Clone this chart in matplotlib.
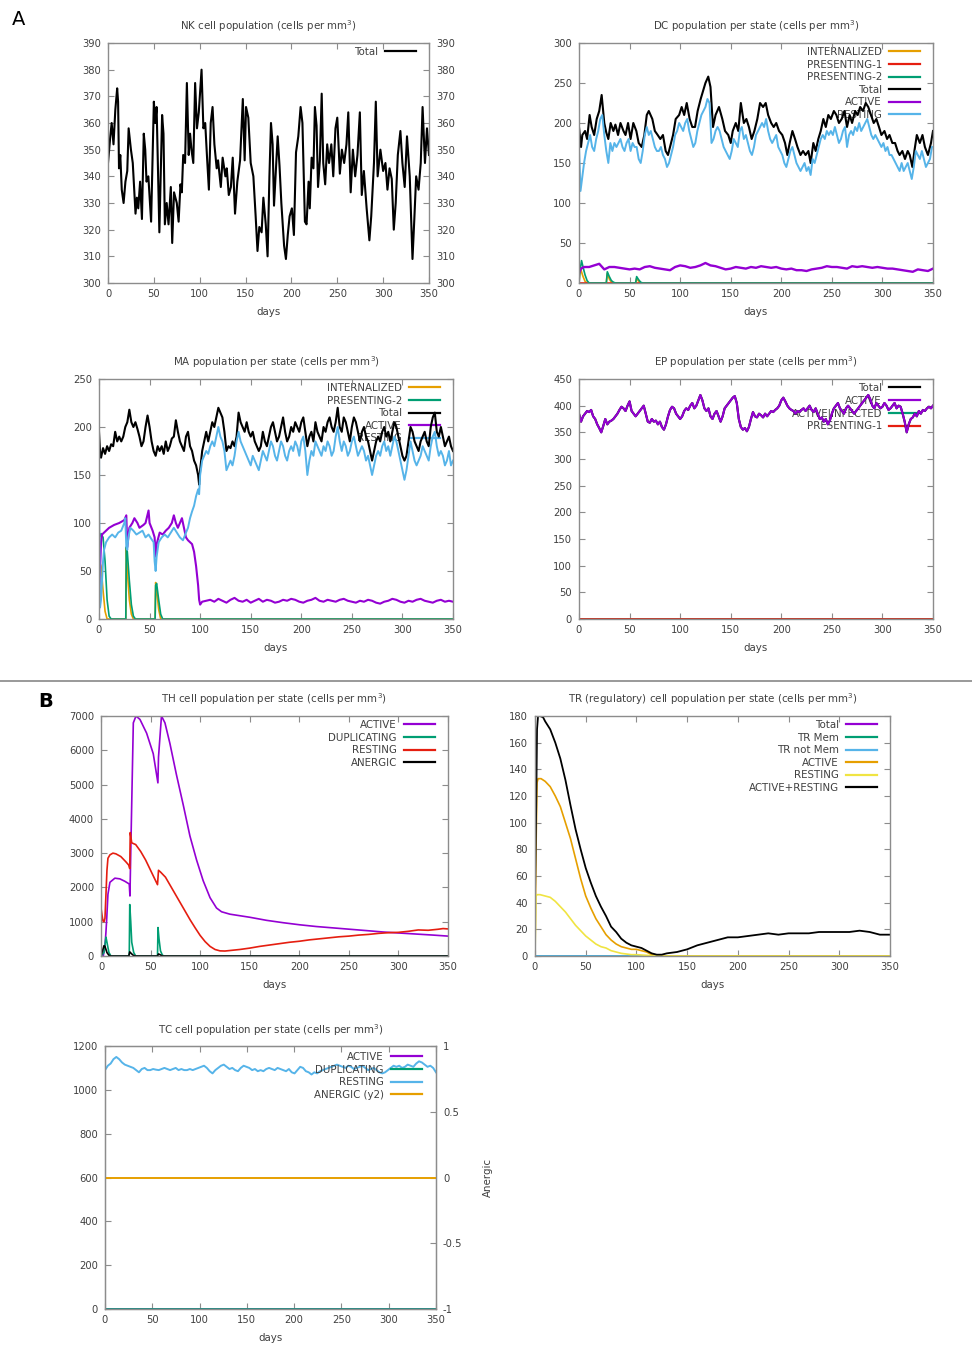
import numpy as np
import matplotlib.pyplot as plt
from matplotlib.lines import Line2D

plt.rcParams['font.family'] = 'DejaVu Sans'
plt.rcParams['mathtext.fontset'] = 'dejavusans'

PURPLE = '#9400d3'
GREEN = '#009e73'
BLUE = '#56b4e9'
ORANGE = '#e69f00'
YELLOW = '#f0e442'
RED = '#e51e10'
BLACK = '#000000'
GREY = '#8c8c8c'
TXT = '#404040'

# ---------------- NK cells ----------------
nk_days = [0, 2.5, 4, 6, 8, 10, 11, 12, 13.4, 15,
           17, 19, 21, 22.5, 25, 27, 30, 31.5, 33, 35,
           37, 39, 40.6, 42, 44, 47, 50, 51.5, 53, 56,
           59, 60.5, 62, 64, 66, 68.5, 70, 72, 75, 77,
           79, 80.5, 82, 84, 86, 88, 89.5, 91, 93, 95,
           97, 99, 102, 104, 106, 108, 110, 112, 114, 116,
           118.5, 120, 123, 125, 128, 129.5, 131.7, 134, 136, 138.5,
           141, 144, 147, 149, 150.5, 153, 155.6, 158.5, 161, 163,
           165, 167.5, 169.4, 172, 174, 176, 177.7, 179.5, 181, 183,
           185, 187, 189, 192, 194, 196, 198, 200.5, 202.7, 205,
           207.5, 210, 212, 214.7, 216.5, 218.7, 220, 222, 224, 225.6,
           227.4, 229, 231, 233, 234.7, 236.8, 239, 241, 243.5, 245.6,
           248, 250, 252.8, 255, 257.5, 260, 262, 264.6, 267, 269.5,
           272, 274.6, 276.7, 279, 282, 285, 287, 290, 292, 294,
           297, 300, 302.5, 304.7, 307, 309.4, 311.6, 313.7, 316, 318.8,
           321, 323.5, 326, 329, 332, 334, 336, 338.6, 341, 343,
           345.6, 347.8, 350]
nk_total = [345, 355, 360, 352, 365, 373, 368, 343, 348, 335,
            330, 338, 342, 358, 350, 345, 326, 332, 328, 338,
            324, 356, 350, 338, 340, 323, 368, 360, 366, 319,
            363, 356, 322, 330, 322, 336, 315, 334, 330, 323,
            337, 334, 348, 345, 375, 348, 356, 350, 345, 375,
            358, 364, 380, 358, 360, 347, 335, 360, 366, 352,
            343, 346, 336, 347, 340, 343, 333, 336, 347, 326,
            338, 346, 369, 346, 366, 362, 345, 340, 325, 312,
            321, 319, 332, 322, 310, 340, 360, 352, 329, 342,
            355, 344, 330, 314, 309, 318, 325, 328, 318, 349,
            355, 366, 360, 323, 322, 338, 328, 347, 343, 366,
            359, 336, 346, 371, 345, 337, 352, 345, 352, 340,
            358, 362, 341, 350, 345, 352, 364, 334, 350, 340,
            348, 364, 333, 342, 328, 316, 325, 345, 368, 340,
            350, 342, 345, 335, 343, 339, 320, 330, 348, 357,
            345, 336, 355, 340, 309, 324, 340, 335, 345, 366,
            345, 358, 348]

# ---------------- DC ----------------
dc_total_days = [0, 2, 3.3, 6, 8, 10.5, 12.5, 15, 17.5, 20,
                 22.4, 25, 27, 29, 31.3, 34, 36, 38.6, 41, 44,
                 46, 48.5, 51, 53.7, 56.7, 59, 62, 64.6, 67, 69,
                 72.5, 75, 77.8, 80.4, 83, 85.7, 88, 91, 93, 95.6,
                 99, 101.5, 104, 106.5, 109.4, 112, 114.7, 117.3, 120.3, 122.6,
                 125, 127.8, 130, 132.5, 135, 138.4, 141.7, 144.4, 147.6, 150,
                 152, 155, 157.5, 160, 163, 165.5, 168, 170.7, 173.4, 176.3,
                 179, 182, 184.6, 187, 190, 192.5, 195, 197.8, 201, 203.7,
                 206, 208.3, 211, 213.6, 216, 219, 221.5, 224, 226.8, 229,
                 231.7, 234, 236.6, 239, 241.6, 244, 246.5, 249, 252, 254.5,
                 257, 259.7, 262.4, 265, 267.6, 270, 273, 275.5, 278, 280.8,
                 283.5, 286, 288.7, 291.4, 294, 296.6, 299, 302, 304.6, 307,
                 309.8, 312.5, 315, 317, 319.7, 322.3, 325, 327, 329.6, 331.6,
                 334, 337, 339.6, 342, 345, 348, 350]
dc_total = [195, 170, 185, 190, 180, 210, 195, 185, 205, 215,
            235, 200, 188, 180, 200, 190, 198, 185, 200, 190,
            185, 200, 180, 200, 190, 175, 170, 185, 210, 215,
            205, 190, 185, 180, 185, 165, 160, 175, 185, 205,
            210, 220, 210, 225, 205, 195, 195, 215, 230, 240,
            250, 258, 245, 195, 210, 220, 205, 190, 185, 175,
            190, 200, 190, 225, 200, 205, 195, 180, 190, 205,
            225, 220, 225, 210, 200, 195, 200, 190, 185, 175,
            160, 175, 190, 180, 170, 160, 165, 160, 165, 150,
            175, 165, 180, 190, 205, 195, 210, 205, 215, 210,
            200, 205, 215, 195, 210, 200, 215, 210, 220, 215,
            225, 220, 210, 200, 205, 195, 185, 190, 180, 185,
            175, 175, 165, 160, 165, 155, 165, 160, 145, 165,
            185, 175, 185, 170, 160, 175, 190]
dc_resting_days = [0, 1.5] + list(range(3, 350, 2))
dc_resting = [170, 115,
              130, 150, 165, 175, 185, 170, 165, 180, 190, 205,
              210, 185, 165, 150, 175, 165, 175, 170, 175, 180,
              170, 165, 175, 180, 165, 175, 170, 170, 155, 150,
              165, 185, 195, 185, 190, 180, 170, 165, 165, 170,
              160, 155, 145, 150, 160, 170, 185, 190, 200, 195,
              190, 200, 205, 190, 180, 170, 175, 190, 200, 210,
              215, 220, 230, 225, 175, 180, 190, 195, 190, 180,
              170, 165, 160, 155, 165, 180, 175, 170, 190, 195,
              180, 185, 175, 165, 160, 170, 185, 190, 195, 200,
              195, 205, 190, 180, 175, 180, 185, 170, 165, 160,
              150, 145, 155, 165, 170, 160, 150, 145, 140, 145,
              150, 140, 145, 135, 155, 150, 160, 170, 180, 185,
              180, 190, 185, 190, 185, 195, 185, 175, 180, 190,
              195, 170, 185, 190, 185, 195, 190, 200, 190, 195,
              200, 205, 195, 185, 180, 185, 180, 175, 170, 175,
              165, 170, 160, 160, 155, 150, 145, 140, 150, 140,
              145, 150, 140, 130, 145, 165, 160, 155, 165, 155,
              145, 150, 155, 170]
dc_active_days = [0, 2] + list(range(5, 351, 5))
dc_active = [12, 18,
             20, 20, 22, 24, 17, 20, 20, 19, 18, 17,
             18, 17, 20, 21, 19, 18, 17, 16, 20, 22,
             21, 19, 20, 22, 25, 22, 21, 19, 17, 18,
             20, 19, 18, 20, 19, 21, 20, 19, 20, 18,
             17, 18, 16, 16, 15, 17, 18, 19, 21, 20,
             20, 19, 18, 21, 20, 21, 20, 19, 20, 19,
             18, 18, 17, 16, 15, 14, 17, 16, 15, 18]
dc_pres2_days = [0, 1, 2.5, 4, 6, 8, 10, 27, 28, 30, 32, 34, 36, 56, 57, 59, 61, 63, 350]
dc_pres2 = [0, 15, 28, 20, 10, 3, 0, 0, 14, 8, 3, 1, 0, 0, 8, 4, 1, 0, 0]
dc_intern_days = [0, 1, 2, 4, 6, 8, 27, 28, 30, 32, 34, 56, 57, 59, 61, 350]
dc_intern = [0, 18, 16, 8, 2, 0, 0, 12, 5, 1, 0, 0, 6, 2, 0, 0]
dc_pres1_days = [0, 350]
dc_pres1 = [0, 0]

# ---------------- MA ----------------
ma_total_days = [0, 1, 2] + list(range(4, 99, 2)) + [99, 100] + list(range(102, 351, 2))
ma_total = [195, 175, 168,
            178, 172, 180, 175, 182, 180, 195, 185, 190, 185,
            190, 200, 205, 218, 205, 200, 205, 198, 190, 180,
            185, 200, 212, 200, 185, 175, 170, 180, 175, 180,
            172, 185, 175, 180, 188, 190, 207, 195, 185, 180,
            175, 190, 195, 180, 175, 165, 160, 150,
            140, 155,
            175, 185, 195, 185, 195, 205, 200, 210, 220, 215,
            210, 195, 175, 180, 178, 185, 180, 190, 215, 205,
            200, 195, 205, 195, 190, 195, 185, 180, 175, 180,
            195, 185, 180, 190, 200, 205, 195, 185, 190, 200,
            210, 195, 185, 190, 200, 195, 205, 200, 195, 205,
            210, 195, 180, 190, 195, 185, 205, 195, 190, 185,
            200, 195, 205, 210, 200, 195, 205, 220, 200, 195,
            210, 205, 195, 185, 200, 210, 205, 195, 185, 195,
            200, 190, 185, 175, 165, 175, 185, 190, 185, 195,
            200, 190, 195, 185, 195, 205, 200, 190, 180, 170,
            165, 170, 185, 200, 195, 185, 180, 175, 185, 190,
            195, 185, 180, 200, 210, 215, 195, 190, 200, 190,
            180, 185, 190, 180, 175]
ma_resting_days = [0, 0.5, 1, 2, 3, 4, 5, 7, 10, 13,
                   16, 19, 22, 25, 26, 27, 28, 29, 31, 34,
                   37, 40, 43, 46, 49, 52, 54, 55, 56, 57,
                   59, 62, 65, 68, 71, 74, 77, 80, 83, 86,
                   88, 90, 92, 94, 96, 98, 99, 100] + list(range(102, 351, 2))
ma_resting = [192, 60, 12, 20, 40, 60, 72, 80, 85, 88,
              85, 90, 92, 100, 105, 75, 72, 85, 95, 92,
              88, 90, 92, 85, 88, 83, 80, 60, 50, 65,
              80, 85, 88, 85, 90, 95, 90, 85, 82, 90,
              95, 105, 112, 118, 128, 135, 130, 150,
              165, 170, 175, 172, 180, 185, 180, 190, 200, 190,
              185, 175, 155, 160, 165, 160, 170, 185, 195, 185,
              180, 175, 170, 165, 160, 170, 165, 160, 155, 165,
              175, 170, 165, 175, 185, 180, 170, 165, 175, 185,
              180, 170, 165, 175, 180, 175, 185, 180, 170, 185,
              190, 175, 150, 165, 175, 170, 185, 180, 175, 170,
              180, 175, 185, 180, 170, 175, 190, 200, 185, 175,
              185, 180, 170, 175, 185, 190, 180, 170, 175, 180,
              175, 165, 170, 160, 150, 160, 170, 175, 170, 180,
              185, 175, 180, 170, 180, 190, 185, 175, 165, 155,
              145, 155, 170, 185, 175, 165, 160, 165, 170, 180,
              175, 170, 165, 180, 190, 195, 180, 170, 175, 170,
              160, 165, 175, 160, 165]
ma_active_days = [0, 1, 2, 3, 5, 10, 15, 20, 25, 27,
                  28, 30, 33, 35, 38, 40, 44, 46, 49, 50,
                  53, 55, 56, 57, 60, 63, 66, 69, 72, 74,
                  76, 78, 80, 82, 84, 86, 88, 90, 92, 94,
                  96, 98, 99, 100] + list(range(102, 351, 4))
ma_active = [10, 50, 80, 88, 90, 95, 98, 100, 103, 108,
             75, 95, 100, 105, 100, 95, 98, 100, 113, 100,
             92, 85, 65, 78, 90, 88, 92, 95, 100, 108,
             100, 95, 100, 105, 95, 85, 82, 80, 78, 70,
             55, 35, 20, 15,
             18, 19, 20, 18, 21, 19, 17, 20, 22, 19,
             18, 20, 17, 19, 21, 18, 20, 19, 17, 18,
             20, 19, 21, 20, 18, 17, 19, 20, 22, 19,
             18, 20, 19, 18, 20, 21, 19, 18, 17, 19,
             18, 20, 19, 17, 16, 18, 19, 21, 20, 18,
             17, 19, 18, 20, 21, 19, 18, 17, 19, 20,
             18, 19, 18]
ma_pres2_days = [0, 0.7, 2, 4, 6, 8, 10, 12, 26.5, 27, 28, 30, 32, 34, 36,
                 55.5, 56, 57, 59, 61, 63, 350]
ma_pres2 = [0, 85, 89, 85, 60, 20, 3, 0, 0, 75, 70, 40, 15, 3, 0,
            0, 35, 37, 20, 5, 0, 0]
ma_intern_days = [0, 0.5, 2, 4, 6, 8, 26.5, 27, 28, 30, 32, 34, 55.5, 56, 57, 59, 61, 350]
ma_intern = [0, 60, 55, 30, 8, 0, 0, 75, 50, 20, 5, 0, 0, 38, 30, 10, 0, 0]

# ---------------- EP ----------------
ep_days = list(range(0, 351, 2))
ep_active = [385, 370, 380, 385, 390, 388, 392, 380, 375, 365,
             358, 350, 362, 375, 365, 370, 372, 375, 380, 385,
             392, 398, 395, 390, 400, 408, 390, 385, 380, 385,
             390, 395, 400, 385, 370, 368, 375, 370, 372, 365,
             370, 360, 355, 365, 380, 392, 398, 395, 385, 380,
             375, 380, 390, 395, 392, 400, 405, 395, 400, 410,
             420, 410, 395, 390, 395, 380, 375, 385, 390, 380,
             370, 380, 395, 400, 405, 410, 415, 418, 405, 375,
             360, 355, 358, 352, 360, 375, 388, 380, 378, 385,
             382, 378, 385, 380, 385, 390, 388, 392, 395, 400,
             410, 415, 408, 400, 395, 392, 390, 385, 390, 388,
             392, 395, 390, 395, 400, 392, 388, 395, 385, 375,
             378, 370, 375, 365, 372, 385, 395, 400, 405, 395,
             390, 385, 395, 400, 395, 390, 385, 390, 395, 400,
             405, 410, 415, 420, 412, 400, 395, 405, 400, 395,
             398, 405, 400, 392, 395, 400, 405, 395, 400, 398,
             385, 370, 350, 365, 375, 378, 385, 380, 390, 385,
             392, 390, 395, 398, 395, 400]
ep_zero_days = [0, 350]
ep_zero = [0, 0]

# ---------------- TH ----------------
th_active_days = [0, 2.3, 4, 5, 5.7, 7, 9, 14, 19, 24,
                  28.5, 29.2, 30, 32.6, 35.3, 39.3, 46, 52.7, 57.4, 58,
                  61, 64.5, 69.5, 76, 83, 89.7, 96.4, 103, 110, 116.5,
                  121.6, 130, 150, 167, 184, 200.5, 217, 234, 251, 268,
                  284.5, 301, 318, 335, 350]
th_active = [0, 0, 300, 700, 1050, 1800, 2150, 2270, 2250, 2180,
             2100, 1750, 3000, 6800, 7000, 6900, 6500, 5900, 5050, 5800,
             7000, 6800, 6200, 5300, 4400, 3500, 2800, 2200, 1700, 1400,
             1290, 1220, 1130, 1040, 970, 910, 860, 820, 780, 740,
             700, 670, 640, 610, 580]
th_resting_days = [0, 1, 2, 3, 4, 5, 6, 7, 9, 12,
                   15, 20, 25, 28, 29, 29.5, 31, 35, 40, 45,
                   50, 55, 57, 58, 60, 65, 70, 75, 80, 85,
                   90, 95, 100, 105, 110, 115, 120, 125, 130, 140,
                   150, 160, 170, 180, 190, 200, 210, 220, 230, 240,
                   250, 260, 270, 280, 290, 300, 310, 320, 330, 340,
                   345, 350]
th_resting = [1400, 1200, 1020, 1000, 1100, 1800, 2500, 2850, 2950, 3000,
              2980, 2900, 2750, 2650, 2550, 3600, 3300, 3250, 3050, 2800,
              2500, 2200, 2080, 2500, 2450, 2300, 2050, 1800, 1550, 1300,
              1050, 820, 600, 420, 280, 190, 150, 145, 160, 190,
              230, 280, 320, 360, 400, 430, 470, 500, 530, 560,
              580, 610, 630, 660, 680, 690, 720, 760, 750, 780,
              800, 790]
th_dup_days = [0, 3, 5, 6, 8, 10, 28.5, 29, 30, 31, 33, 35, 57, 57.5, 58.5, 60, 62, 64, 350]
th_dup = [0, 100, 550, 400, 100, 0, 0, 1500, 1000, 400, 100, 0, 0, 830, 500, 150, 20, 0, 0]
th_anergic_days = [0, 2, 3, 4, 6, 8, 10, 28, 29, 31, 33, 35, 57, 58, 60, 62, 350]
th_anergic = [0, 200, 300, 280, 100, 20, 0, 0, 120, 60, 10, 0, 0, 60, 30, 0, 0]

# ---------------- TR ----------------
tr_sum_days = [0, 1, 2, 3, 5, 8, 10, 15, 20, 25,
               30, 35, 40, 45, 50, 55, 60, 65, 70, 75,
               80, 85, 90, 95, 100, 105, 110, 115, 120, 125,
               130, 140, 150, 160, 170, 180, 190, 200, 210, 220,
               230, 240, 250, 260, 270, 280, 290, 300, 310, 320,
               330, 340, 350]
tr_sum = [45, 100, 170, 180, 180, 179, 176, 170, 160, 148,
          132, 113, 95, 80, 66, 55, 45, 37, 30, 22,
          18, 13, 10, 8, 7, 6, 4, 2, 1, 1,
          2, 3, 5, 8, 10, 12, 14, 14, 15, 16,
          17, 16, 17, 17, 17, 18, 18, 18, 18, 19,
          18, 16, 16]
tr_active_days = [0, 1, 2, 3, 6, 10, 15, 20, 25, 30,
                  35, 40, 45, 50, 55, 60, 65, 70, 75, 80,
                  85, 90, 95, 100, 105, 110, 115, 120, 125, 350]
tr_active = [0, 80, 130, 133, 133, 131, 127, 120, 112, 100,
             88, 73, 58, 45, 36, 28, 22, 16, 12, 9,
             7, 6, 5, 5, 4, 3, 1, 0.5, 0, 0]
tr_resting_days = [0, 1, 2, 5, 10, 15, 20, 25, 30, 35,
                   40, 45, 50, 55, 60, 65, 70, 75, 80, 85,
                   90, 95, 100, 110, 120, 350]
tr_resting = [0, 45, 46, 46, 45, 44, 41, 37, 33, 28,
              23, 19, 15, 12, 9, 7, 6, 4, 3, 2,
              1.5, 1, 1, 0.5, 0, 0]
tr_zero_days = [0, 350]
tr_zero = [0, 0]

# ---------------- TC ----------------
tc_resting = [1090, 1110, 1120, 1140, 1150, 1140, 1125, 1115, 1110, 1105,
              1100, 1090, 1080, 1095, 1100, 1090, 1090, 1095, 1092, 1090,
              1095, 1100, 1095, 1090, 1095, 1100, 1090, 1095, 1090, 1090,
              1095, 1090, 1095, 1100, 1105, 1110, 1100, 1085, 1075, 1090,
              1100, 1110, 1115, 1105, 1095, 1100, 1090, 1085, 1100, 1110,
              1105, 1100, 1090, 1095, 1085, 1090, 1085, 1095, 1100, 1095,
              1090, 1100, 1095, 1090, 1085, 1095, 1080, 1075, 1090, 1105,
              1100, 1085, 1080, 1070, 1080, 1075, 1085, 1090, 1095, 1100,
              1105, 1110, 1115, 1110, 1105, 1100, 1110, 1105, 1095, 1100,
              1105, 1110, 1100, 1090, 1095, 1100, 1090, 1080, 1075, 1080,
              1090, 1100, 1110, 1105, 1110, 1100, 1105, 1115, 1110, 1105,
              1120, 1130, 1125, 1115, 1105, 1110, 1100, 1080]
tc_days = np.linspace(0, 350, len(tc_resting))
tc_zero_days = [0, 350]
tc_zero = [0, 0]

W, H = 972, 1351
FS_TICK = 7.2
FS_TEXT = 7.4
fig = plt.figure(figsize=(W / 100, H / 100), dpi=100)


def panel(l, t, r, b):
    return fig.add_axes([l / W, 1 - b / H, (r - l) / W, (b - t) / H])


def frame(ax, title, ymax, ystep, ymin=0, right_labels=False):
    ax.set_xlim(0, 350)
    ax.set_ylim(ymin, ymax)
    ax.set_xticks(range(0, 351, 50))
    ax.set_yticks(np.arange(ymin, ymax + 1, ystep))
    for s in ax.spines.values():
        s.set_color(GREY)
        s.set_linewidth(1.0)
    ax.tick_params(direction='in', length=4, width=0.8, color=GREY,
                   labelsize=FS_TICK, labelcolor=TXT, top=True, right=True, pad=4)
    ax.tick_params(axis='y', pad=5)
    if right_labels:
        ax.tick_params(axis='y', labelright=True)
    ax.set_title(title, fontsize=FS_TEXT, color=TXT, pad=9)
    ax.set_xlabel('days', fontsize=FS_TEXT, color=TXT, labelpad=6)


def key(ax, right_px=13, top_px=4, handles=None, labels=None, target=None):
    bb = ax.get_position()
    w, h = bb.width * W, bb.height * H
    target = target or ax
    args = (handles, labels) if handles is not None else ()
    leg = target.legend(*args, loc='upper right',
                        bbox_to_anchor=(1 - right_px / w, 1 - top_px / h),
                        borderaxespad=0, borderpad=0, frameon=False, markerfirst=False,
                        handlelength=3, handletextpad=0.7, labelspacing=0.25,
                        fontsize=FS_TEXT)
    for t in leg.get_texts():
        t.set_color(TXT)
    for ln in leg.get_lines():
        ln.set_linewidth(1.6)
    leg.set_zorder(1)


# NK
ax = panel(108, 43, 429, 283)
ax.plot(nk_days, nk_total, color=BLACK, lw=1.5, label='Total', zorder=2)
frame(ax, r'NK cell population (cells per mm$^3$)', 390, 10, ymin=300, right_labels=True)
key(ax)

# DC
ax = panel(579, 43, 933, 283)
ax.plot(dc_intern_days, dc_intern, color=ORANGE, lw=1.2, label='INTERNALIZED', zorder=2)
ax.plot(dc_pres1_days, dc_pres1, color=RED, lw=1.2, label='PRESENTING-1', zorder=2)
ax.plot(dc_pres2_days, dc_pres2, color=GREEN, lw=1.2, label='PRESENTING-2', zorder=2)
ax.plot(dc_total_days, dc_total, color=BLACK, lw=1.5, label='Total', zorder=2)
ax.plot(dc_active_days, dc_active, color=PURPLE, lw=1.7, label='ACTIVE', zorder=2)
ax.plot(dc_resting_days, dc_resting, color=BLUE, lw=1.4, label='RESTING', zorder=2)
frame(ax, r'DC population per state (cells per mm$^3$)', 300, 50)
key(ax)

# MA
ax = panel(99, 379, 453, 619)
ax.plot(ma_intern_days, ma_intern, color=ORANGE, lw=1.2, label='INTERNALIZED', zorder=2)
ax.plot(ma_pres2_days, ma_pres2, color=GREEN, lw=1.2, label='PRESENTING-2', zorder=2)
ax.plot(ma_total_days, ma_total, color=BLACK, lw=1.5, label='Total', zorder=2)
ax.plot(ma_active_days, ma_active, color=PURPLE, lw=1.5, label='ACTIVE', zorder=2)
ax.plot(ma_resting_days, ma_resting, color=BLUE, lw=1.4, label='RESTING', zorder=2)
frame(ax, r'MA population per state (cells per mm$^3$)', 250, 50)
key(ax)

# EP
ax = panel(579, 379, 933, 619)
ax.plot(ep_days, ep_active, color=BLACK, lw=1.5, label='Total', zorder=2)
ax.plot(ep_days, ep_active, color=PURPLE, lw=1.5, label='ACTIVE', zorder=2)
ax.plot(ep_zero_days, ep_zero, color=GREEN, lw=1.2, label='ACTIVE|INFECTED', zorder=2)
ax.plot(ep_zero_days, ep_zero, color=RED, lw=1.2, label='PRESENTING-1', zorder=2)
frame(ax, r'EP population per state (cells per mm$^3$)', 450, 50)
key(ax)

# separator between A and B
fig.add_artist(Line2D([0, 1], [1 - 681 / H] * 2, color='#888888', lw=1.2))
fig.text(12 / W, 1 - 25 / H, 'A', fontsize=14, color=BLACK)
fig.text(38 / W, 1 - 707 / H, 'B', fontsize=14, color=BLACK, weight='semibold')

# TH
ax = panel(101, 716, 448, 956)
ax.plot(th_active_days, th_active, color=PURPLE, lw=1.2, label='ACTIVE', zorder=2)
ax.plot(th_dup_days, th_dup, color=GREEN, lw=1.2, label='DUPLICATING', zorder=2)
ax.plot(th_resting_days, th_resting, color=RED, lw=1.2, label='RESTING', zorder=2)
ax.plot(th_anergic_days, th_anergic, color=BLACK, lw=1.2, label='ANERGIC', zorder=2)
frame(ax, r'TH cell population per state (cells per mm$^3$)', 7000, 1000)
key(ax)

# TR
ax = panel(535, 716, 890, 956)
ax.plot(tr_zero_days, tr_zero, color=PURPLE, lw=1.2, label='Total', zorder=2)
ax.plot(tr_zero_days, tr_zero, color=GREEN, lw=1.2, label='TR Mem', zorder=2)
ax.plot(tr_zero_days, tr_zero, color=BLUE, lw=1.2, label='TR not Mem', zorder=2)
ax.plot(tr_active_days, tr_active, color=ORANGE, lw=1.2, label='ACTIVE', zorder=2)
ax.plot(tr_resting_days, tr_resting, color=YELLOW, lw=1.2, label='RESTING', zorder=2)
ax.plot(tr_sum_days, tr_sum, color=BLACK, lw=1.3, label='ACTIVE+RESTING', zorder=2)
frame(ax, r'TR (regulatory) cell population per state (cells per mm$^3$)', 180, 20)
key(ax)

# TC
ax = panel(105, 1046, 436, 1309)
ax.plot(tc_zero_days, tc_zero, color=PURPLE, lw=1.2, label='ACTIVE', zorder=2)
ax.plot(tc_zero_days, tc_zero, color=GREEN, lw=1.2, label='DUPLICATING', zorder=2)
ax.plot(tc_days, tc_resting, color=BLUE, lw=1.4, label='RESTING', zorder=2)
frame(ax, r'TC cell population per state (cells per mm$^3$)', 1200, 200)
ax.tick_params(axis='y', right=False)
ax2 = ax.twinx()
ax2.plot(tc_zero_days, tc_zero, color=ORANGE, lw=1.4, label='ANERGIC (y2)')
ax2.set_ylim(-1, 1)
ax2.set_yticks([-1, -0.5, 0, 0.5, 1])
ax2.set_yticklabels(['-1', '-0.5', '0', '0.5', '1'])
ax2.tick_params(direction='in', length=4, width=0.8, color=GREY,
                labelsize=FS_TICK, labelcolor=TXT, pad=5)
for s in ax2.spines.values():
    s.set_color(GREY)
ax2.set_ylabel('Anergic', fontsize=FS_TEXT, color=TXT, labelpad=15)
h1, l1 = ax.get_legend_handles_labels()
h2, l2 = ax2.get_legend_handles_labels()
key(ax, right_px=14, top_px=6, handles=h1 + h2, labels=l1 + l2, target=ax2)

fig.savefig('out.png', dpi=100)
